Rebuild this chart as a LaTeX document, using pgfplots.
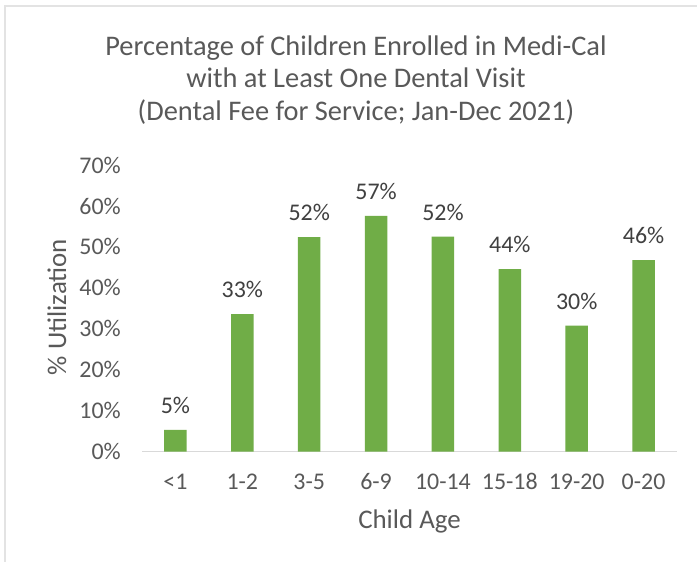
\documentclass[border=0pt]{standalone}
\usepackage{pgfplots}
\pgfplotsset{compat=1.18}
\usepackage{fontspec}
\setmainfont{Carlito}
\definecolor{bargreen}{HTML}{70AD47}
\definecolor{txt}{HTML}{595959}
\definecolor{lbl}{HTML}{404040}
\definecolor{axisgray}{HTML}{D9D9D9}
\definecolor{framegray}{HTML}{E3E3E3}
\begin{document}
\begin{tikzpicture}
\useasboundingbox (0bp,0bp) rectangle (697bp,562bp);
\fill[white] (0bp,0bp) rectangle (697bp,562bp);
\draw[framegray, line width=1.5bp] (5bp,0bp) -- (5bp,556bp) -- (697bp,556bp);
\node[txt, align=center, font=\fontsize{28.5}{33}\selectfont] at (356bp,482bp)
  {Percentage of Children Enrolled in Medi-Cal\\with at Least One Dental Visit\\(Dental Fee for Service; Jan-Dec 2021)};
\node[txt, rotate=90, anchor=base, font=\fontsize{27}{32}\selectfont] at (66bp,255bp) {\% Utilization};
\begin{axis}[
  at={(142bp,110.3bp)}, anchor=south west,
  scale only axis, width=535bp, height=286.7bp,
  xmin=-0.5, xmax=7.5, ymin=0, ymax=70,
  axis x line=bottom, axis y line=left,
  axis line style={-},
  x axis line style={axisgray, line width=1.3bp},
  y axis line style={draw=none},
  major tick length=0pt,
  ytick={0,10,...,70},
  yticklabel={\pgfmathprintnumber{\tick}\%},
  xtick={0,...,7},
  xticklabels={{<1},{1-2},{3-5},{6-9},{10-14},{15-18},{19-20},{0-20}},
  /pgf/number format/assume math mode=true,
  ticklabel style={font=\fontsize{24}{28}\selectfont, text=txt},
  yticklabel style={anchor=east, inner sep=0pt, xshift=-21bp},
  xticklabel style={anchor=base, inner sep=0pt, yshift=-38.3bp},
  xlabel={Child Age},
  xlabel style={at={(axis description cs:0.5,0)}, anchor=base, yshift=-76.6bp, font=\fontsize{27}{32}\selectfont, text=txt},
  ybar, bar width=22.5bp,
  nodes near coords={\pgfplotspointmeta\%},
  nodes near coords style={anchor=base, inner sep=0pt, yshift=16.5bp, font=\fontsize{24}{28}\selectfont, text=lbl},
  clip=false,
]
\addplot[fill=bargreen, draw=none, point meta=explicit symbolic] table[x=x, y=y, meta=lab] {
x y lab
0 5.3 5
1 33.6 33
2 52.4 52
3 57.6 57
4 52.5 52
5 44.6 44
6 30.8 30
7 46.8 46
};
\end{axis}
\end{tikzpicture}
\end{document}
